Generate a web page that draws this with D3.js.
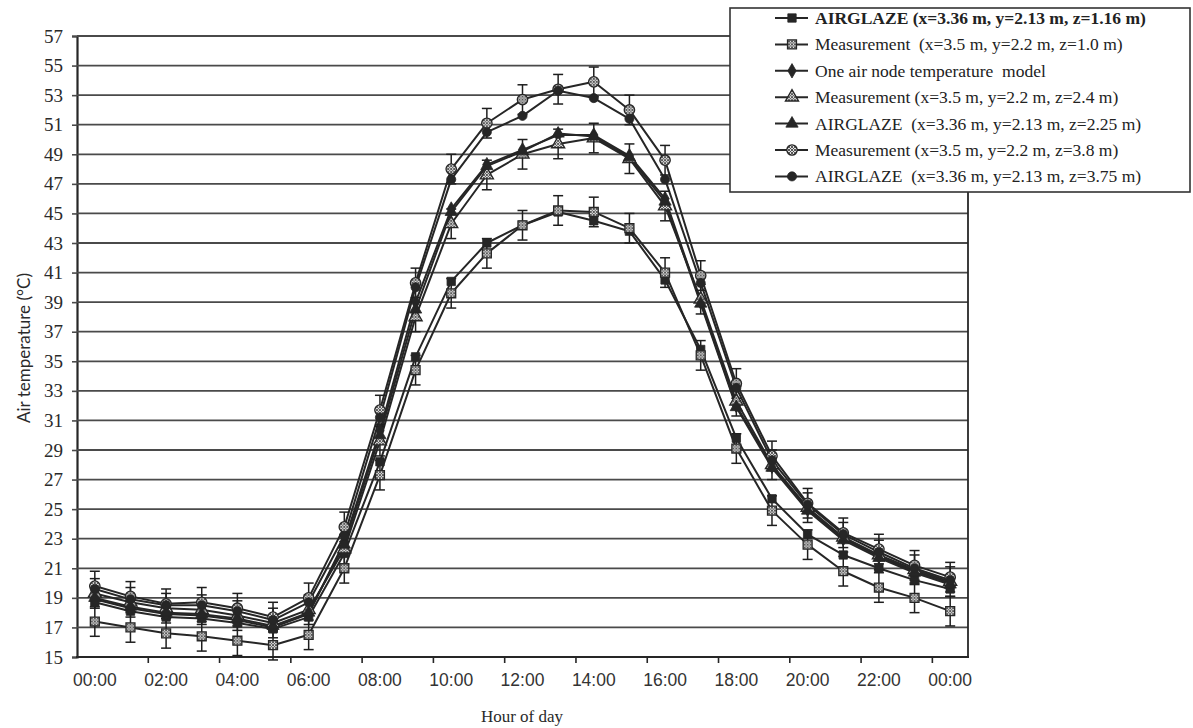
<!DOCTYPE html>
<html>
<head>
<meta charset="utf-8">
<script src="https://cdn.jsdelivr.net/npm/d3@7"></script>
<style>
  body { margin: 0; background: #fff; }
  svg { display: block; }
</style>
</head>
<body>
<svg id="chart" width="1193" height="728"></svg>
<script>
// Hour-of-day categories (one per hour, the day closes at the following midnight)
const hours = [0, 1, 2, 3, 4, 5, 6, 7, 8, 9, 10, 11, 12, 13, 14, 15, 16, 17, 18, 19, 20, 21, 22, 23, 24];
const hourTicks = [0, 2, 4, 6, 8, 10, 12, 14, 16, 18, 20, 22, 24];
const hourTickLabels = ["00:00", "02:00", "04:00", "06:00", "08:00", "10:00", "12:00",
                        "14:00", "16:00", "18:00", "20:00", "22:00", "00:00"];
const tempTicks = [15, 17, 19, 21, 23, 25, 27, 29, 31, 33, 35, 37, 39, 41, 43, 45, 47, 49, 51, 53, 55, 57];

// Air temperatures (°C), hourly
const airglazeZ116 = [18.7, 18.1, 17.7, 17.6, 17.3, 16.9, 17.7, 22.0, 28.2, 35.3, 40.4, 43.0, 44.2,
                      45.1, 44.5, 43.8, 40.5, 35.8, 29.8, 25.7, 23.3, 21.9, 21.0, 20.2, 19.6];
const measZ10     = [17.4, 17.0, 16.6, 16.4, 16.1, 15.8, 16.5, 21.0, 27.3, 34.4, 39.6, 42.3, 44.2,
                      45.2, 45.1, 44.0, 41.0, 35.4, 29.1, 24.9, 22.6, 20.8, 19.7, 19.0, 18.1];
const oneNodeModel = [18.9, 18.3, 17.9, 17.8, 17.5, 17.0, 17.9, 22.8, 30.3, 39.0, 45.3, 48.3, 49.3,
                      50.3, 50.3, 48.9, 46.0, 39.0, 32.0, 27.9, 25.0, 23.0, 21.8, 20.8, 20.0];
const measZ24     = [19.3, 18.7, 18.3, 18.2, 17.8, 17.3, 18.2, 22.3, 29.6, 38.0, 44.3, 47.6, 49.0,
                      49.7, 50.1, 48.7, 45.5, 39.2, 32.3, 28.0, 25.1, 23.1, 21.9, 20.9, 20.1];
const airglazeZ225 = [19.0, 18.4, 18.0, 17.9, 17.6, 17.1, 18.0, 22.6, 30.0, 38.5, 45.1, 48.2, 49.2,
                      50.4, 50.2, 48.8, 45.8, 38.9, 31.9, 27.8, 24.9, 22.9, 21.7, 20.7, 19.9];
const measZ38     = [19.8, 19.1, 18.6, 18.7, 18.3, 17.7, 19.0, 23.8, 31.7, 40.3, 48.0, 51.1, 52.7,
                      53.4, 53.9, 52.0, 48.6, 40.8, 33.5, 28.6, 25.4, 23.4, 22.3, 21.2, 20.4];
const airglazeZ375 = [19.6, 18.9, 18.5, 18.5, 18.1, 17.5, 18.7, 23.2, 31.2, 40.0, 47.3, 50.5, 51.6,
                      53.3, 52.8, 51.4, 47.3, 40.3, 33.2, 28.3, 25.3, 23.3, 22.1, 21.0, 20.2];

// Measurement uncertainty (± °C)
const measError = 1.0;

const seriesLabels = [
  "AIRGLAZE (x=3.36 m, y=2.13 m, z=1.16 m)",
  "Measurement  (x=3.5 m, y=2.2 m, z=1.0 m)",
  "One air node temperature  model",
  "Measurement (x=3.5 m, y=2.2 m, z=2.4 m)",
  "AIRGLAZE  (x=3.36 m, y=2.13 m, z=2.25 m)",
  "Measurement (x=3.5 m, y=2.2 m, z=3.8 m)",
  "AIRGLAZE  (x=3.36 m, y=2.13 m, z=3.75 m)"
];

const series = [
  { label: seriesLabels[0], values: airglazeZ116, symbol: d3.symbolSquare,   size: 70, hatched: false, err: 0, bold: true },
  { label: seriesLabels[1], values: measZ10,      symbol: d3.symbolSquare,   size: 80, hatched: true,  err: measError },
  { label: seriesLabels[2], values: oneNodeModel, symbol: d3.symbolDiamond,  size: 60, hatched: false, err: 0 },
  { label: seriesLabels[3], values: measZ24,      symbol: d3.symbolTriangle, size: 75, hatched: true,  err: measError },
  { label: seriesLabels[4], values: airglazeZ225, symbol: d3.symbolTriangle, size: 65, hatched: false, err: 0 },
  { label: seriesLabels[5], values: measZ38,      symbol: d3.symbolCircle,   size: 85, hatched: true,  err: measError },
  { label: seriesLabels[6], values: airglazeZ375, symbol: d3.symbolCircle,   size: 65, hatched: false, err: 0 }
];

const svg = d3.select("#chart");
const plot = { left: 77, right: 968, top: 36, bottom: 657 };
const ink = "#262626";
const gridInk = "#4a4a4a";

const x = d3.scaleBand().domain(hours).range([plot.left, plot.right]).padding(0);
const xc = h => x(h) + x.bandwidth() / 2;
const y = d3.scaleLinear().domain([15, 57]).range([plot.bottom, plot.top]);

// crosshatch fill for measured markers
const defs = svg.append("defs");
const pat = defs.append("pattern")
  .attr("id", "hatch").attr("patternUnits", "userSpaceOnUse")
  .attr("width", 3).attr("height", 3);
pat.append("rect").attr("width", 3).attr("height", 3).attr("fill", "#e2e2e2");
pat.append("path").attr("d", "M0,0 L3,3 M3,0 L0,3").attr("stroke", "#4a4a4a").attr("stroke-width", 0.9);

// horizontal gridlines + y axis
const yAxis = d3.axisLeft(y).tickValues(tempTicks).tickSize(5).tickPadding(9).tickFormat(d3.format("d"));
const gy = svg.append("g").attr("transform", `translate(${plot.left},0)`).call(yAxis);
gy.select(".domain").attr("stroke", ink).attr("stroke-width", 2.2);
gy.selectAll(".tick line").attr("stroke", gridInk).attr("stroke-width", 1.6);
gy.selectAll(".tick text")
  .attr("font-family", "'Liberation Serif', 'DejaVu Serif', serif")
  .attr("font-size", 19).attr("fill", "#2a2a2a");

svg.append("g").selectAll("line").data(tempTicks).join("line")
  .attr("x1", plot.left).attr("x2", plot.right)
  .attr("y1", d => y(d)).attr("y2", d => y(d))
  .attr("stroke", gridInk).attr("stroke-width", 1.8);

// right frame edge
svg.append("line")
  .attr("x1", plot.right).attr("x2", plot.right)
  .attr("y1", y(57)).attr("y2", y(15))
  .attr("stroke", ink).attr("stroke-width", 1.8);

// x axis: labels centred on categories, tick marks on the category boundaries
const xAxis = d3.axisBottom(x).tickValues(hourTicks).tickSize(0).tickPadding(17)
  .tickFormat((d, i) => hourTickLabels[i]);
const gx = svg.append("g").attr("transform", `translate(0,${plot.bottom})`).call(xAxis);
gx.select(".domain").remove();
gx.selectAll(".tick text")
  .attr("font-family", "'Liberation Sans', Arimo, sans-serif")
  .attr("font-size", 17.5).attr("fill", "#333");

svg.append("line")
  .attr("x1", plot.left - 1).attr("x2", plot.right + 1)
  .attr("y1", plot.bottom).attr("y2", plot.bottom)
  .attr("stroke", ink).attr("stroke-width", 2.2);
svg.append("g").selectAll("line").data(hourTicks.slice(1)).join("line")
  .attr("x1", d => x(d)).attr("x2", d => x(d))
  .attr("y1", plot.bottom).attr("y2", plot.bottom + 6)
  .attr("stroke", ink).attr("stroke-width", 1.6);

// axis titles
svg.append("text")
  .attr("transform", "translate(30,348) rotate(-90)")
  .attr("text-anchor", "middle")
  .attr("font-family", "Lato, 'Open Sans', sans-serif").attr("font-size", 17).attr("fill", "#2a2a2a")
  .text("Air temperature (°C)");
svg.append("text")
  .attr("x", 522).attr("y", 722)
  .attr("text-anchor", "middle")
  .attr("font-family", "'Liberation Serif', serif").attr("font-size", 17).attr("fill", "#2a2a2a")
  .text("Hour of day");

// series lines
const line = d3.line().x((d, i) => xc(hours[i])).y(d => y(d));
svg.append("g").selectAll("path").data(series).join("path")
  .attr("d", s => line(s.values))
  .attr("fill", "none").attr("stroke", ink).attr("stroke-width", 2)
  .attr("stroke-linejoin", "round");

// error bars on measured series
series.filter(s => s.err > 0).forEach(s => {
  const g = svg.append("g").attr("stroke", "#1e1e1e").attr("stroke-width", 1.5);
  s.values.forEach((v, i) => {
    const cx = xc(hours[i]);
    g.append("line").attr("x1", cx).attr("x2", cx).attr("y1", y(v - s.err)).attr("y2", y(v + s.err));
    g.append("line").attr("x1", cx - 5).attr("x2", cx + 5).attr("y1", y(v - s.err)).attr("y2", y(v - s.err));
    g.append("line").attr("x1", cx - 5).attr("x2", cx + 5).attr("y1", y(v + s.err)).attr("y2", y(v + s.err));
  });
});

// markers
function drawMarker(sel, s) {
  sel.attr("d", d3.symbol().type(s.symbol).size(s.size)())
    .attr("fill", s.hatched ? "url(#hatch)" : ink)
    .attr("stroke", ink).attr("stroke-width", s.hatched ? 1.3 : 0.8);
}
series.forEach(s => {
  svg.append("g").selectAll("path").data(s.values).join("path")
    .attr("transform", (v, i) => `translate(${xc(hours[i])},${y(v)})`)
    .call(drawMarker, s);
});

// legend
const legend = svg.append("g");
legend.append("rect")
  .attr("x", 730).attr("y", 8).attr("width", 460).attr("height", 184)
  .attr("fill", "#fff").attr("stroke", "#333").attr("stroke-width", 1.6);
series.forEach((s, i) => {
  const ry = 18 + i * 26.4;
  legend.append("line").attr("x1", 775).attr("x2", 808).attr("y1", ry).attr("y2", ry)
    .attr("stroke", ink).attr("stroke-width", 2);
  legend.append("path").attr("transform", `translate(792,${ry})`).call(drawMarker, s);
  legend.append("text")
    .attr("x", 815).attr("y", ry + 6)
    .attr("font-family", "'Liberation Serif', serif").attr("font-size", 17.5)
    .attr("font-weight", s.bold ? "bold" : "normal")
    .attr("fill", "#222")
    .attr("xml:space", "preserve")
    .style("white-space", "pre")
    .text(s.label);
});
</script>
</body>
</html>
